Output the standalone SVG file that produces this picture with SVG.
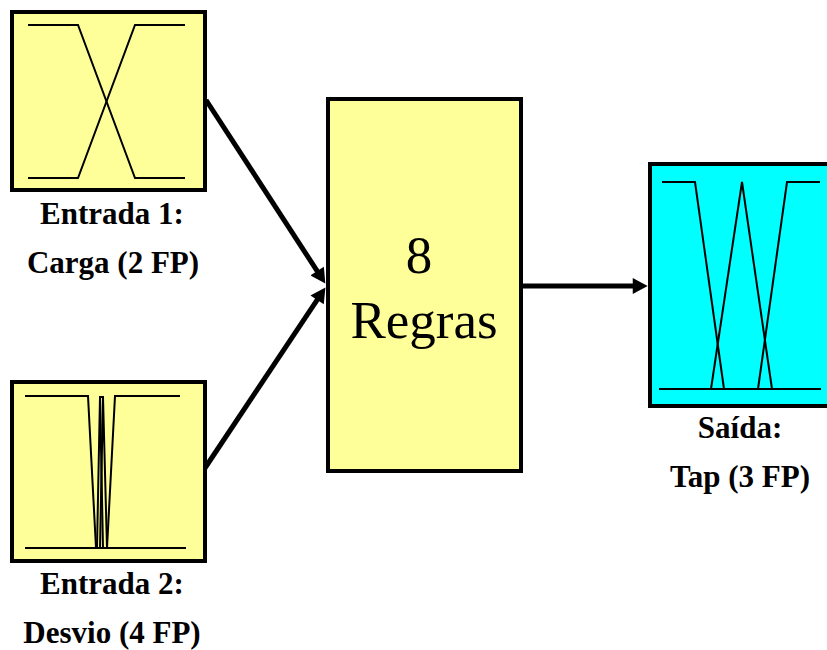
<svg xmlns="http://www.w3.org/2000/svg" width="827" height="650" viewBox="0 0 827 650">
<defs>
<style>
.box{stroke:#000;stroke-width:4;}
.yel{fill:#FFFF99;}
.cyan{fill:#00FFFF;}
.mf{fill:none;stroke:#000;stroke-width:2;stroke-linejoin:miter;}
.lbl{font-family:"Liberation Serif","Times New Roman",serif;font-weight:bold;font-size:31px;fill:#000;text-anchor:middle;}
.big{font-family:"Liberation Serif","Times New Roman",serif;font-size:53px;fill:#000;text-anchor:middle;}
.conn{stroke:#000;stroke-width:5;fill:none;}
</style>
<marker id="arr" markerUnits="userSpaceOnUse" markerWidth="16" markerHeight="16" viewBox="0 0 14 15" refX="4" refY="7.5" orient="auto">
<path d="M0,0 L14,7.5 L0,15 z" fill="#000"/>
</marker>
</defs>
<rect width="827" height="650" fill="#fff"/>
<g id="connectors">
<line class="conn" x1="206" y1="100" x2="319.5" y2="274.6" marker-end="url(#arr)"/>
<line class="conn" x1="205" y1="468" x2="319.5" y2="296.3" marker-end="url(#arr)"/>
<line class="conn" x1="523" y1="286" x2="637" y2="286" marker-end="url(#arr)"/>
</g>
<g id="entrada1">
<rect class="box yel" x="12" y="12" width="193" height="178"/>
<path class="mf" d="M28,25 H78 L135,178 H185"/>
<path class="mf" d="M28,178 H78 L135,25 H185"/>
<text class="lbl" x="112" y="224">Entrada 1:</text>
<text class="lbl" x="113" y="273">Carga (2 FP)</text>
</g>
<g id="entrada2">
<rect class="box yel" x="12" y="382" width="193" height="179"/>
<path class="mf" d="M25,396 H88 L96,548"/>
<path class="mf" d="M97,548 L100,397 L103,548"/>
<path class="mf" d="M100,548 L103,397 L107,548"/>
<path class="mf" d="M99,397 H104"/>
<path class="mf" d="M107,548 L115,396 H180"/>
<path class="mf" d="M25,548 H186"/>
<text class="lbl" x="112" y="594">Entrada 2:</text>
<text class="lbl" x="112" y="643">Desvio (4 FP)</text>
</g>
<g id="regras">
<rect class="box yel" x="328" y="99" width="193" height="372"/>
<text class="big" x="419" y="273">8</text>
<text class="big" x="424" y="338">Regras</text>
</g>
<g id="saida">
<rect class="box cyan" x="650" y="164" width="200" height="242"/>
<path class="mf" d="M662,182 H695 L724,389"/>
<path class="mf" d="M711,389 L742,182 L772,389"/>
<path class="mf" d="M758,389 L787,182 H820"/>
<path class="mf" d="M659,389 H821"/>
<text class="lbl" x="740" y="438">Saída:</text>
<text class="lbl" x="740" y="487">Tap (3 FP)</text>
</g>
</svg>
